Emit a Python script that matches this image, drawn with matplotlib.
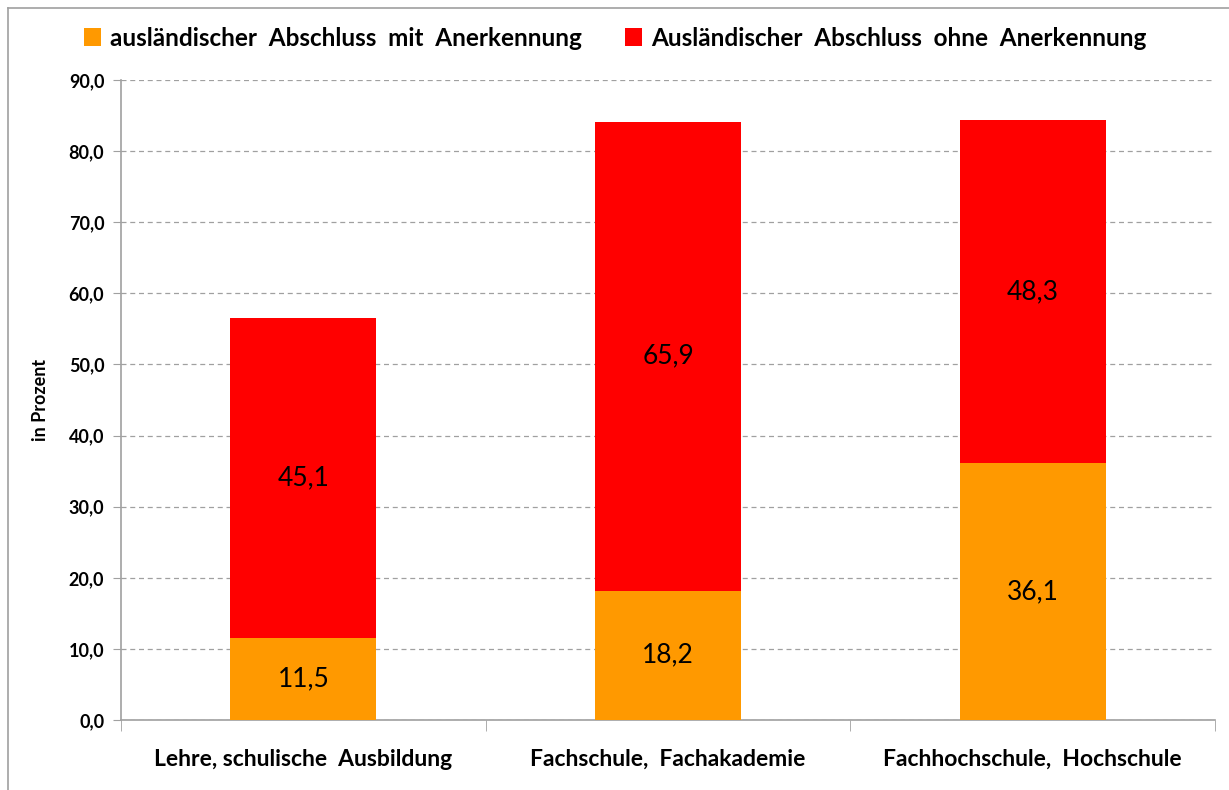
import matplotlib
matplotlib.use("Agg")
import matplotlib.pyplot as plt
from matplotlib.lines import Line2D
from matplotlib.patches import Patch
import numpy as np

categories = ["Lehre, schulische  Ausbildung", "Fachschule,  Fachakademie", "Fachhochschule,  Hochschule"]
mit_anerkennung = [11.5, 18.2, 36.1]
ohne_anerkennung = [45.1, 65.9, 48.3]
series_names = ["ausländischer  Abschluss  mit  Anerkennung", "Ausländischer  Abschluss  ohne  Anerkennung"]
yticks = [0, 10, 20, 30, 40, 50, 60, 70, 80, 90]

orange = "#FF9900"
red = "#FF0000"
font = "Lato"

fig = plt.figure(figsize=(12.29, 7.90), dpi=100)
ax = fig.add_axes([121/1229, 70/790, (1215-121)/1229, 640/790])

x = np.arange(len(categories))
w = 0.4
ax.bar(x, mit_anerkennung, w, color=orange, zorder=3)
ax.bar(x, ohne_anerkennung, w, bottom=mit_anerkennung, color=red, zorder=3)

for xi, v in zip(x, mit_anerkennung):
    ax.text(xi, v/2, f"{v:.1f}".replace(".", ","), ha="center", va="center",
            fontsize=19, family=font, zorder=4)
for xi, v, b in zip(x, ohne_anerkennung, mit_anerkennung):
    ax.text(xi, b + v/2, f"{v:.1f}".replace(".", ","), ha="center", va="center",
            fontsize=19, family=font, zorder=4)

ax.set_xlim(-0.5, len(categories) - 0.5)
ax.set_ylim(0, 90)
ax.set_yticks(yticks)
ax.set_yticklabels([f"{t:.1f}".replace(".", ",") for t in yticks],
                   fontsize=13, fontweight="bold", family=font)
ax.set_xticks(x)
ax.set_xticklabels(categories, fontsize=16.5, fontweight="bold", family=font)
ax.tick_params(axis="x", length=0, pad=21)
ax.set_xticks(np.arange(-0.5, len(categories)), minor=True)
ax.tick_params(axis="x", which="minor", length=8, color="#A0A0A0", direction="out")
ax.tick_params(axis="y", length=6, color="#A0A0A0", direction="out", pad=6)

ax.yaxis.grid(True, linestyle=(0, (4, 3)), color="#A0A0A0", linewidth=0.9, zorder=0)
ax.set_axisbelow(True)
for s in ["top", "right"]:
    ax.spines[s].set_visible(False)
for s in ["left", "bottom"]:
    ax.spines[s].set_color("#A0A0A0")
    ax.spines[s].set_linewidth(1.2)

ax.set_ylabel("in Prozent", fontsize=13, fontweight="bold", family=font, labelpad=14)

handles = [Patch(facecolor=orange), Patch(facecolor=red)]
fig.legend(handles, series_names, loc="center", bbox_to_anchor=(615/1229, 1 - 38/790),
           ncol=2, frameon=False, handlelength=0.7, handleheight=0.7, handletextpad=0.35,
           columnspacing=1.8, prop={"family": font, "weight": "bold", "size": 17.5})

fig.add_artist(Line2D([8/1229, 1], [1 - 8/790, 1 - 8/790], color="#A0A0A0", lw=1.2))
fig.add_artist(Line2D([8/1229, 8/1229], [0, 1 - 8/790], color="#A0A0A0", lw=1.2))

fig.savefig("out.png", dpi=100)
